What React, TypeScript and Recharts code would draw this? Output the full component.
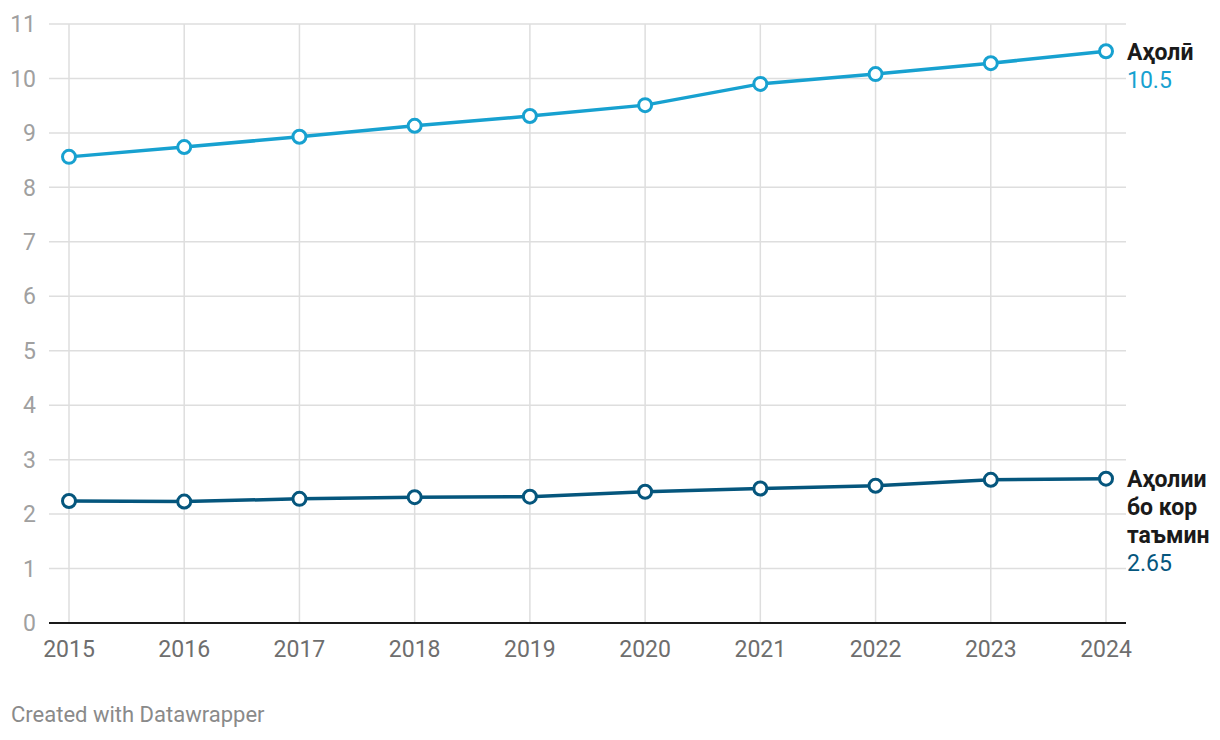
import React from 'react';
import { LineChart, Line, XAxis, YAxis, CartesianGrid, ReferenceLine } from 'recharts';

const years = ['2015', '2016', '2017', '2018', '2019', '2020', '2021', '2022', '2023', '2024'];
const population = [8.56, 8.74, 8.93, 9.13, 9.31, 9.51, 9.9, 10.08, 10.28, 10.5];
const employed = [2.24, 2.23, 2.28, 2.31, 2.32, 2.41, 2.47, 2.52, 2.63, 2.65];
const yTicks = [0, 1, 2, 3, 4, 5, 6, 7, 8, 9, 10, 11];
const popNameLines = ['Аҳолӣ'];
const empNameLines = ['Аҳолии', 'бо кор', 'таъмин'];
const popValueLabel = '10.5';
const empValueLabel = '2.65';
const footerText = 'Created with Datawrapper';

const POP_COLOR = '#17a1d0';
const EMP_COLOR = '#05567d';
const GRID_COLOR = '#dedede';
const FONT = 'Roboto, sans-serif';

const data = years.map((y, i) => ({ year: y, pop: population[i], emp: employed[i] }));

const makeEndLabel = (lines: string[], value: string, color: string) => (props: any) => {
  const { x, y, index } = props;
  if (index !== years.length - 1) return null;
  const lx = x + 21;
  return (
    <text x={lx} y={y} fontFamily={FONT} fontSize={23}>
      {lines.map((l, i) => (
        <tspan key={i} x={lx} dy={i === 0 ? '0.36em' : 28} fill="#1a1a1a" fontWeight={700}>
          {l}
        </tspan>
      ))}
      <tspan x={lx} dy={28} fill={color} fontWeight={400}>
        {value}
      </tspan>
    </text>
  );
};

export default function App() {
  return (
    <div style={{ position: 'absolute', left: 0, top: 0, width: 1220, height: 740, background: '#fff' }}>
      <LineChart
        width={1220}
        height={740}
        data={data}
        margin={{ top: 24, right: 94, left: 0, bottom: 57 }}
      >
        <CartesianGrid stroke={GRID_COLOR} strokeWidth={1.5} vertical={false} />
        {years.map((yr) => (
          <ReferenceLine key={yr} x={yr} stroke={GRID_COLOR} strokeWidth={1.5} />
        ))}
        <XAxis
          dataKey="year"
          padding={{ left: 20, right: 20 }}
          axisLine={false}
          tickLine={false}
          tickSize={0}
          tickMargin={18}
          height={60}
          interval={0}
          tick={{ fill: '#6e6e6e', fontSize: 23, fontFamily: FONT }}
        />
        <YAxis
          domain={[0, 11]}
          ticks={yTicks}
          width={49}
          axisLine={false}
          tickLine={false}
          tickSize={0}
          tickMargin={13}
          interval={0}
          tick={{ fill: '#a0a0a0', fontSize: 23, fontFamily: FONT }}
        />
        <ReferenceLine y={0} stroke="#1a1a1a" strokeWidth={2} />
        <Line
          type="linear"
          dataKey="pop"
          stroke={POP_COLOR}
          strokeWidth={3.5}
          dot={{ r: 6.5, fill: '#fff', stroke: POP_COLOR, strokeWidth: 3 }}
          activeDot={false}
          isAnimationActive={false}
          label={makeEndLabel(popNameLines, popValueLabel, POP_COLOR)}
        />
        <Line
          type="linear"
          dataKey="emp"
          stroke={EMP_COLOR}
          strokeWidth={3.5}
          dot={{ r: 6.5, fill: '#fff', stroke: EMP_COLOR, strokeWidth: 3 }}
          activeDot={false}
          isAnimationActive={false}
          label={makeEndLabel(empNameLines, empValueLabel, EMP_COLOR)}
        />
      </LineChart>
      <div
        style={{
          position: 'absolute',
          left: 11,
          top: 702,
          fontFamily: FONT,
          fontSize: 22,
          color: '#8a8a8a',
          whiteSpace: 'nowrap',
        }}
      >
        {footerText}
      </div>
    </div>
  );
}
